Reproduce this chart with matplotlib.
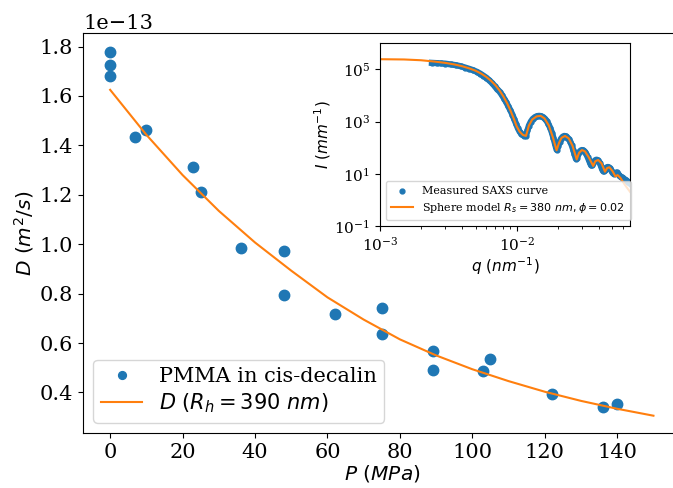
import numpy as np
import matplotlib
matplotlib.use("Agg")
import matplotlib.pyplot as plt
from matplotlib.ticker import LogLocator, NullLocator, FixedLocator

plt.rcParams['font.family'] = 'serif'
plt.rcParams['font.serif'] = ['DejaVu Serif']
plt.rcParams['mathtext.fontset'] = 'dejavusans'

# Main data: diffusion coefficient vs pressure (units of 1e-13 m^2/s)
pressure = [0, 0, 0, 7, 10, 23, 25, 36, 48, 48, 62, 75, 75, 89, 89, 103, 105, 122, 136, 140]
diffusion = [1.78, 1.725, 1.681, 1.434, 1.463, 1.313, 1.212, 0.985, 0.972, 0.794,
             0.717, 0.742, 0.637, 0.569, 0.490, 0.488, 0.537, 0.394, 0.342, 0.355]

# Stokes-Einstein model curve
p_model = [0, 10, 20, 30, 40, 50, 60, 70, 80, 90, 100, 110, 120, 130, 140, 150]
d_model = [1.625, 1.443, 1.280, 1.135, 1.007, 0.893, 0.785, 0.695, 0.615, 0.550,
           0.494, 0.446, 0.403, 0.366, 0.334, 0.306]

# Inset: SAXS model curve (q in nm^-1, log10 I)
q_model = [0.0010, 0.0015, 0.0020, 0.0025, 0.0030, 0.0035, 0.0040, 0.0045, 0.0050,
           0.0055, 0.0060, 0.0065, 0.0070, 0.0075, 0.0080, 0.0085, 0.0090, 0.0095,
           0.0100, 0.0105, 0.0111, 0.0117, 0.0123, 0.0130, 0.0140, 0.0150, 0.0160,
           0.0172, 0.0184, 0.0196, 0.0204, 0.0213, 0.0226, 0.0240, 0.0256, 0.0275,
           0.0286, 0.0300, 0.0316, 0.0338, 0.0363, 0.0376, 0.0395, 0.0418, 0.0443,
           0.0459, 0.0477, 0.0503, 0.0528, 0.0548, 0.0575, 0.0615, 0.0675]
logI_model = [5.39, 5.38, 5.35, 5.30, 5.25, 5.19, 5.12, 5.04, 4.95,
              4.84, 4.71, 4.56, 4.39, 4.19, 3.96, 3.71, 3.43, 3.13,
              2.82, 2.62, 2.49, 2.45, 2.85, 3.08, 3.20, 3.22, 3.12,
              2.85, 2.40, 1.90, 2.18, 2.38, 2.45, 2.36, 2.08, 1.55,
              1.80, 1.91, 1.86, 1.62, 1.30, 1.48, 1.53, 1.40, 1.08,
              1.22, 1.25, 1.10, 0.90, 0.95, 0.84, 0.60, 0.31]

# Inset: measured SAXS curve
q_meas = [0.0024, 0.0026, 0.0028, 0.0030, 0.0033, 0.0036, 0.0039, 0.0042, 0.0045,
          0.0048, 0.0051, 0.0054, 0.0057, 0.0060, 0.0063, 0.0066, 0.0069, 0.0072,
          0.0075, 0.0078, 0.0081, 0.0084, 0.0087, 0.0090, 0.0093, 0.0096, 0.0099,
          0.0102, 0.0105, 0.0108, 0.0111, 0.0114, 0.0117, 0.0120, 0.0123, 0.0127,
          0.0131, 0.0136, 0.0141, 0.0146, 0.0151, 0.0156, 0.0161, 0.0166, 0.0171,
          0.0176, 0.0181, 0.0186, 0.0191, 0.0196, 0.0201, 0.0206, 0.0211, 0.0217,
          0.0223, 0.0229, 0.0235, 0.0241, 0.0247, 0.0253, 0.0259, 0.0265, 0.0271,
          0.0276, 0.0282, 0.0288, 0.0294, 0.0300, 0.0306, 0.0312, 0.0318, 0.0324,
          0.0330, 0.0337, 0.0344, 0.0351, 0.0358, 0.0364, 0.0371, 0.0378, 0.0385,
          0.0392, 0.0399, 0.0406, 0.0413, 0.0420, 0.0427, 0.0434, 0.0441, 0.0448,
          0.0455, 0.0462, 0.0469, 0.0476, 0.0483, 0.0490, 0.0498, 0.0506, 0.0514,
          0.0522, 0.0530, 0.0538, 0.0546, 0.0554, 0.0562, 0.0570, 0.0580, 0.0590,
          0.0600, 0.0610, 0.0620, 0.0630, 0.0640, 0.0650, 0.0660, 0.0670]
logI_meas = [5.25, 5.24, 5.23, 5.22, 5.19, 5.16, 5.12, 5.07, 5.02,
             4.97, 4.91, 4.84, 4.76, 4.68, 4.58, 4.48, 4.36, 4.24,
             4.15, 4.02, 3.88, 3.74, 3.58, 3.43, 3.27, 3.09, 2.92,
             2.75, 2.62, 2.54, 2.49, 2.46, 2.45, 2.66, 2.85, 3.00,
             3.10, 3.17, 3.21, 3.22, 3.21, 3.17, 3.11, 3.02, 2.90,
             2.76, 2.58, 2.37, 2.14, 1.92, 2.05, 2.22, 2.34, 2.42,
             2.45, 2.44, 2.39, 2.33, 2.23, 2.09, 1.93, 1.75, 1.58,
             1.60, 1.75, 1.84, 1.89, 1.91, 1.90, 1.87, 1.82, 1.75,
             1.65, 1.54, 1.42, 1.32, 1.33, 1.42, 1.49, 1.53, 1.54,
             1.52, 1.47, 1.40, 1.31, 1.20, 1.12, 1.10, 1.14, 1.20,
             1.24, 1.26, 1.26, 1.24, 1.21, 1.15, 1.08, 1.02, 1.00,
             1.02, 1.04, 1.05, 1.03, 0.99, 0.94, 0.90, 0.88, 0.86,
             0.84, 0.81, 0.78, 0.76, 0.73, 0.70, 0.67, 0.64]

blue = '#1f77b4'
orange = '#ff7f0e'

fig = plt.figure(figsize=(6.73, 4.88), dpi=100)
ax = fig.add_axes([0.1233, 0.1127, 0.8840 + 0.004, 0.8197])

ax.plot(pressure, np.array(diffusion) * 1e-13, 'o', color=blue, ms=7.5,
        label='PMMA in cis-decalin')
ax.plot(p_model, np.array(d_model) * 1e-13, '-', color=orange, lw=1.5,
        label=r'$D\ (R_h = 390\ nm)$')
ax.set_xlim(-7.5, 157.5)
ax.set_ylim(0.236e-13, 1.855e-13)
ax.set_xticks([0, 20, 40, 60, 80, 100, 120, 140])
ax.set_yticks(np.array([0.4, 0.6, 0.8, 1.0, 1.2, 1.4, 1.6, 1.8]) * 1e-13)
ax.spines['right'].set_visible(False)   # lies just outside the cropped figure
ax.tick_params(labelsize=15)
ax.yaxis.get_offset_text().set_fontsize(15)
ax.set_xlabel(r'$P\ (MPa)$', fontsize=14.5, labelpad=1)
ax.set_ylabel(r'$D\ (m^2/s)$', fontsize=14.5, labelpad=3)
ax.legend(loc='lower left', fontsize=15, handlelength=2.0, markerscale=0.75,
          borderpad=0.35, labelspacing=0.25, borderaxespad=0.5)

# Inset
ins = fig.add_axes([0.5646, 0.5369, 0.3715, 0.3744])
ins.plot(q_meas, 10 ** np.array(logI_meas), '-', color=blue, lw=4.5, zorder=1)
ins.plot(q_meas, 10 ** np.array(logI_meas), 'o', color=blue, ms=3.5, zorder=1,
         label='Measured SAXS curve')
ins.plot(q_model, 10 ** np.array(logI_model), '-', color=orange, lw=1.5, zorder=2,
         label=r'Sphere model $R_s = 380\ nm, \phi = 0.02$')
ins.set_xscale('log')
ins.set_yscale('log')
ins.set_xlim(1e-3, 0.0675)
ins.set_ylim(1e-1, 1e6)
ins.yaxis.set_major_locator(FixedLocator([1e-1, 1e1, 1e3, 1e5]))
ins.yaxis.set_minor_locator(NullLocator())
ins.xaxis.set_major_locator(FixedLocator([1e-3, 1e-2]))
ins.xaxis.set_minor_locator(LogLocator(base=10, subs=np.arange(2, 10)))
ins.tick_params(labelsize=11)
ins.set_xlabel(r'$q\ (nm^{-1})$', fontsize=11, labelpad=1)
ins.set_ylabel(r'$I\ (mm^{-1})$', fontsize=11, labelpad=1)
ins.legend(loc='lower left', fontsize=8, borderpad=0.5, labelspacing=0.4,
           handlelength=2.0)

fig.savefig('out.png', dpi=100)
